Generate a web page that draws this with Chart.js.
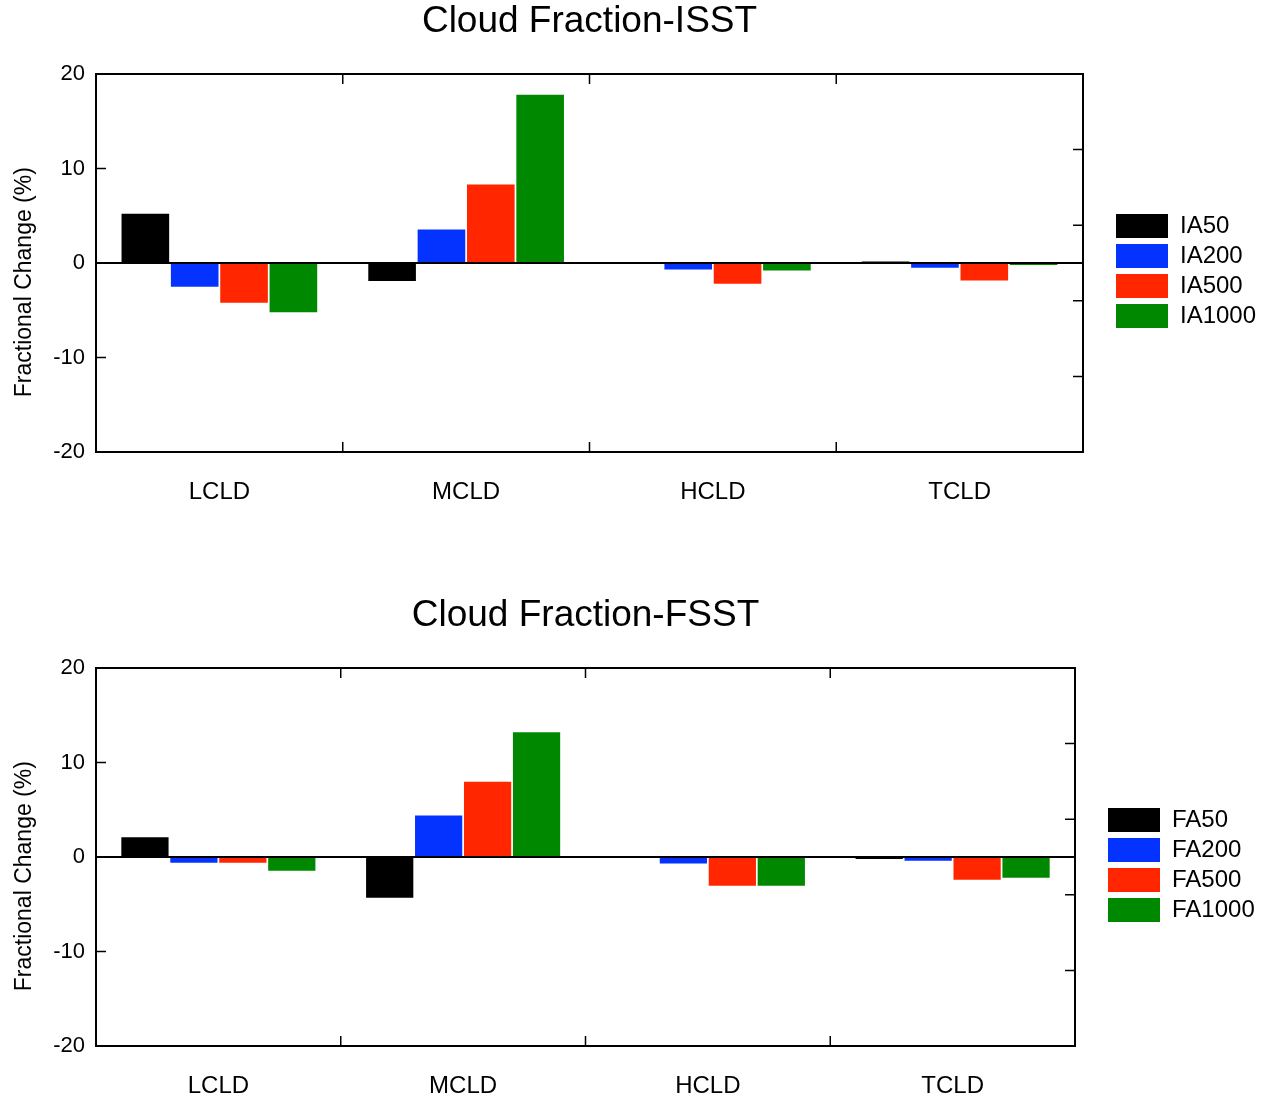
<!DOCTYPE html>
<html>
<head>
<meta charset="utf-8">
<script src="https://cdn.jsdelivr.net/npm/chart.js@4.4.1/dist/chart.umd.min.js"></script>
<style>
  body { margin: 0; background: #fff; width: 1268px; height: 1099px; overflow: hidden; position: relative; }
  .box { position: absolute; left: 0; width: 1268px; height: 505px; }
</style>
</head>
<body>
<div class="box" style="top:0px"><canvas id="isstChart"></canvas></div>
<div class="box" style="top:594px"><canvas id="fsstChart"></canvas></div>
<script>
const categories = ['LCLD', 'MCLD', 'HCLD', 'TCLD'];

// Cloud Fraction-ISST
const ia50 = [5.2, -1.9, 0, 0.15];
const ia200 = [-2.5, 3.55, -0.7, -0.5];
const ia500 = [-4.2, 8.3, -2.2, -1.85];
const ia1000 = [-5.2, 17.8, -0.8, -0.2];

// Cloud Fraction-FSST
const fa50 = [2.1, -4.3, 0, -0.2];
const fa200 = [-0.6, 4.4, -0.7, -0.4];
const fa500 = [-0.6, 7.95, -3.05, -2.4];
const fa1000 = [-1.45, 13.2, -3.05, -2.2];

const yMin = -20;
const yMax = 20;
const leftTicks = [-10, 0, 10];
const rightTicks = [-12, -4, 4, 12];

const colors = ['#000000', '#0433ff', '#ff2600', '#008800'];

Chart.defaults.font.family = '"Liberation Sans", Arial, sans-serif';
Chart.defaults.color = '#000';

// frame, zero line and inward tick marks
const framePlugin = {
  id: 'frame',
  beforeLayout(chart) {
    const lg = chart.legend;
    if (lg && !lg._patched) {
      const fit = lg.fit;
      lg.fit = function () {
        fit.call(this);
        this.width = chart.options.plugins.frame.legendWidth;
      };
      lg._patched = true;
    }
  },
  afterLayout(chart) {
    const lg = chart.legend;
    lg.top += 8;
    lg.bottom += 8;
  },
  afterDatasetsDraw(chart) {
    const { ctx, chartArea: a, scales: { x, y } } = chart;
    ctx.save();
    ctx.strokeStyle = '#000';
    ctx.lineWidth = 2;
    const y0 = y.getPixelForValue(0);
    ctx.beginPath();
    ctx.moveTo(a.left, y0);
    ctx.lineTo(a.right, y0);
    ctx.stroke();
    ctx.strokeRect(a.left, a.top, a.right - a.left, a.bottom - a.top);

    ctx.lineWidth = 1.5;
    ctx.beginPath();
    leftTicks.forEach(v => {
      const py = y.getPixelForValue(v);
      ctx.moveTo(a.left, py);
      ctx.lineTo(a.left + 10, py);
    });
    rightTicks.forEach(v => {
      const py = y.getPixelForValue(v);
      ctx.moveTo(a.right - 10, py);
      ctx.lineTo(a.right, py);
    });
    for (let i = 0; i < categories.length - 1; i++) {
      const px = (x.getPixelForValue(i) + x.getPixelForValue(i + 1)) / 2;
      ctx.moveTo(px, a.top);
      ctx.lineTo(px, a.top + 10);
      ctx.moveTo(px, a.bottom);
      ctx.lineTo(px, a.bottom - 10);
    }
    ctx.stroke();
    ctx.restore();
  }
};

function makeChart(id, title, names, series, legendWidth) {
  new Chart(document.getElementById(id), {
    type: 'bar',
    data: {
      labels: categories,
      datasets: series.map((vals, i) => ({
        label: names[i],
        data: vals,
        backgroundColor: colors[i],
        borderWidth: 0,
        barPercentage: 0.965,
        categoryPercentage: 0.8
      }))
    },
    options: {
      responsive: true,
      maintainAspectRatio: false,
      animation: false,
      layout: { padding: 0 },
      plugins: {
        frame: { legendWidth: legendWidth },
        title: {
          display: true,
          text: title,
          fullSize: false,
          font: { size: 37, weight: 'normal' },
          padding: { top: 0, bottom: 29.6 }
        },
        legend: {
          position: 'right',
          fullSize: false,
          labels: {
            boxWidth: 52,
            boxHeight: 24,
            padding: 6,
            font: { size: 24, lineHeight: 1 }
          }
        },
        tooltip: { enabled: false }
      },
      scales: {
        x: {
          grid: { display: false, drawTicks: false },
          border: { display: false },
          ticks: { font: { size: 24 }, padding: 26 },
          afterFit: s => { s.height = 53; }
        },
        y: {
          min: yMin,
          max: yMax,
          grid: { display: false, drawTicks: false },
          border: { display: false },
          ticks: { stepSize: 10, font: { size: 22 }, padding: 11 },
          title: {
            display: true,
            // trailing spaces push the visible text below the axis centre, as in the source
            text: 'Fractional Change (%)      ',
            font: { size: 23 },
            padding: { top: 11, bottom: 0 }
          },
          afterFit: s => { s.width = 96; }
        },
        yR: {
          position: 'right',
          display: true,
          grid: { display: false, drawTicks: false },
          border: { display: false },
          ticks: { display: false },
          afterFit: s => { s.width = 27; }
        }
      }
    },
    plugins: [framePlugin]
  });
}

makeChart('isstChart', 'Cloud Fraction-ISST',
  ['IA50', 'IA200', 'IA500', 'IA1000'], [ia50, ia200, ia500, ia1000], 158);
makeChart('fsstChart', 'Cloud Fraction-FSST',
  ['FA50', 'FA200', 'FA500', 'FA1000'], [fa50, fa200, fa500, fa1000], 166);
</script>
</body>
</html>
